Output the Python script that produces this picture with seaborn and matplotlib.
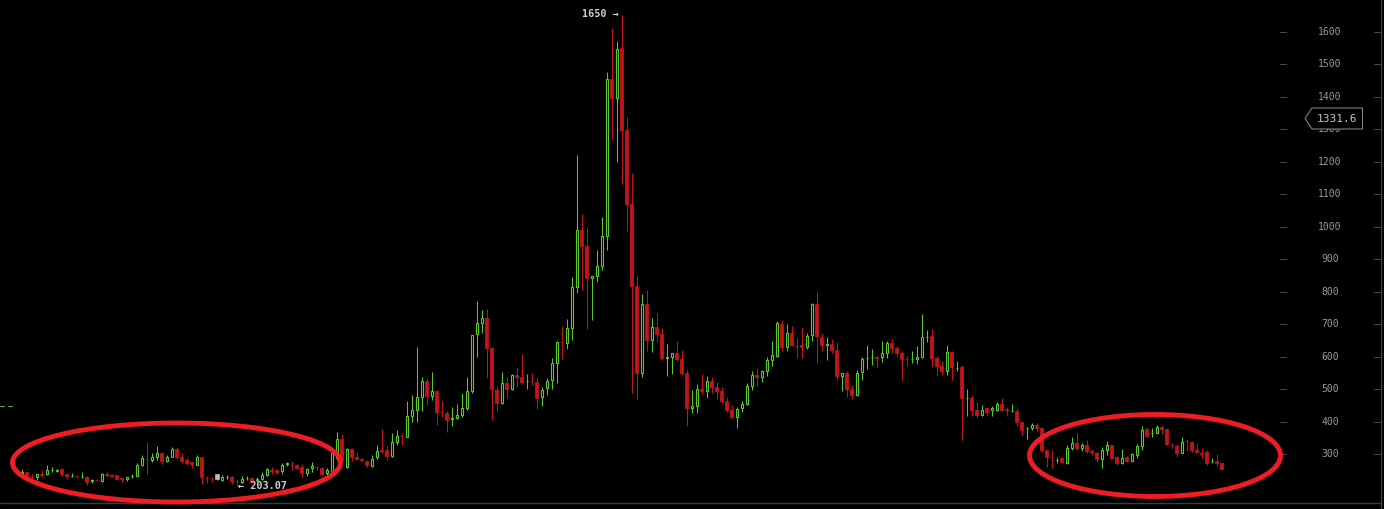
import matplotlib
matplotlib.use("Agg")
import numpy as np
import pandas as pd
import seaborn as sns
import matplotlib.pyplot as plt
from matplotlib.patches import Ellipse, Polygon

# ---------------- data ----------------
opens = [236, 245, 233, 229, 241, 238, 251, 248, 254, 239, 232, 233, 229, 231, 218, 221, 217, 238, 235, 235,
         227, 223, 232, 234, 267, 287, 282, 291, 303, 280, 293, 315, 291, 283, 275, 268, 291, 227, 227, 225,
         221, 229, 231, 218, 215, 227, 226, 222, 223, 236, 251, 253, 250, 271, 268, 267, 262, 243, 257, 262,
         257, 243, 247, 288, 346, 262, 316, 291, 285, 280, 265, 291, 312, 313, 295, 339, 357, 354, 418, 436,
         477, 525, 479, 496, 430, 428, 410, 411, 421, 441, 496, 669, 705, 718, 628, 498, 459, 518, 500, 544,
         537, 525, 527, 521, 475, 503, 529, 580, 645, 643, 690, 816, 990, 941, 841, 849, 880, 972, 1454, 1397,
         1549, 1298, 1070, 819, 551, 762, 652, 691, 670, 596, 600, 613, 592, 549, 443, 450, 501, 496, 525, 507,
         495, 464, 436, 416, 443, 455, 511, 544, 539, 557, 590, 603, 701, 631, 672, 634, 636, 631, 666, 762,
         660, 637, 638, 621, 542, 549, 501, 482, 552, 595, 598, 599, 600, 613, 641, 626, 611, 593, 592, 593,
         598, 661, 664, 595, 572, 557, 616, 566, 570, 472, 474, 436, 421, 441, 436, 436, 455, 438, 432, 433,
         398, 381, 380, 390, 380, 313, 292, 283, 290, 274, 320, 336, 318, 329, 309, 303, 285, 313, 329, 293,
         272, 293, 279, 298, 327, 377, 366, 367, 385, 378, 329, 326, 305, 342, 337, 313, 303, 308, 278, 279,
         274]
highs = [255, 245, 239, 240, 252, 267, 262, 255, 257, 240, 243, 237, 245, 233, 225, 223, 243, 245, 239, 236,
         227, 230, 241, 274, 298, 339, 303, 326, 308, 298, 321, 323, 303, 291, 277, 298, 293, 233, 231, 240,
         236, 235, 234, 223, 233, 233, 226, 229, 247, 257, 262, 254, 274, 277, 279, 270, 270, 259, 277, 264,
         262, 259, 313, 370, 362, 318, 320, 306, 288, 284, 297, 328, 377, 326, 365, 375, 365, 464, 482, 631,
         537, 534, 554, 498, 464, 433, 447, 455, 490, 539, 667, 772, 744, 746, 631, 510, 554, 537, 547, 568,
         609, 547, 551, 537, 506, 534, 595, 649, 695, 716, 844, 1221, 1039, 998, 848, 928, 1030, 1477, 1612, 1571,
         1651, 1339, 1166, 852, 793, 806, 718, 736, 688, 639, 612, 648, 621, 559, 498, 515, 546, 541, 539, 523,
         508, 477, 452, 446, 464, 518, 556, 566, 559, 598, 648, 710, 713, 700, 695, 657, 693, 674, 766, 802,
         672, 662, 654, 647, 551, 556, 513, 559, 598, 636, 624, 606, 649, 649, 654, 633, 618, 602, 618, 633,
         732, 682, 684, 602, 587, 636, 619, 587, 575, 501, 484, 462, 452, 446, 449, 462, 474, 446, 454, 441,
         400, 385, 395, 395, 385, 313, 313, 293, 293, 329, 354, 365, 336, 344, 315, 308, 323, 341, 329, 295,
         315, 295, 303, 331, 387, 385, 382, 390, 387, 380, 336, 332, 352, 346, 342, 336, 318, 313, 288, 301,
         274]
lows = [231, 226, 221, 221, 231, 236, 247, 245, 233, 224, 230, 228, 228, 205, 213, 218, 214, 229, 229, 221,
        215, 219, 228, 233, 265, 241, 276, 282, 269, 277, 291, 285, 274, 266, 259, 266, 208, 213, 216, 222,
        218, 225, 208, 203, 211, 221, 211, 215, 221, 233, 239, 239, 239, 264, 252, 254, 231, 233, 247, 252,
        236, 231, 241, 282, 277, 257, 280, 283, 278, 262, 262, 285, 305, 283, 293, 329, 329, 354, 400, 400,
        433, 452, 467, 390, 414, 370, 387, 409, 416, 436, 490, 600, 674, 536, 406, 431, 455, 472, 498, 508,
        516, 501, 513, 440, 449, 483, 501, 520, 593, 624, 652, 797, 806, 687, 714, 831, 868, 928, 1270, 1198,
        1132, 987, 488, 467, 537, 618, 616, 644, 590, 541, 547, 587, 544, 388, 426, 428, 485, 474, 488, 470,
        459, 431, 413, 382, 431, 452, 498, 510, 523, 542, 572, 600, 619, 619, 633, 597, 597, 625, 650, 582,
        619, 590, 611, 529, 496, 477, 470, 480, 529, 562, 575, 566, 585, 597, 613, 600, 529, 572, 582, 577,
        595, 647, 570, 542, 544, 544, 529, 556, 344, 418, 419, 411, 418, 418, 418, 433, 433, 419, 429, 387,
        359, 346, 375, 372, 308, 262, 257, 272, 274, 269, 313, 313, 310, 303, 298, 275, 259, 298, 286, 267,
        270, 275, 277, 290, 313, 352, 354, 362, 362, 329, 320, 291, 303, 310, 308, 306, 288, 267, 272, 265,
        255]
closes = [247, 234, 232, 239, 237, 252, 252, 252, 239, 233, 233, 232, 230, 216, 220, 220, 239, 237, 234, 225,
          225, 230, 233, 267, 288, 285, 292, 303, 280, 291, 315, 293, 280, 272, 270, 293, 229, 226, 226, 238,
          231, 230, 218, 217, 225, 228, 216, 223, 236, 254, 249, 245, 267, 272, 266, 258, 244, 255, 265, 261,
          241, 252, 305, 346, 282, 315, 293, 285, 283, 268, 287, 311, 311, 295, 337, 356, 355, 418, 436, 475,
          525, 480, 495, 431, 429, 406, 411, 421, 441, 495, 667, 703, 718, 628, 500, 459, 518, 500, 544, 539,
          524, 526, 526, 474, 498, 526, 580, 647, 644, 688, 814, 990, 942, 841, 848, 879, 972, 1454, 1397, 1547,
          1299, 1070, 819, 551, 762, 652, 691, 670, 595, 598, 612, 593, 549, 443, 449, 500, 496, 525, 508, 496,
          465, 436, 416, 439, 455, 510, 544, 539, 556, 590, 605, 705, 631, 672, 636, 633, 630, 664, 762, 664,
          636, 638, 621, 542, 549, 502, 482, 549, 593, 596, 599, 597, 611, 641, 628, 613, 593, 592, 593, 600,
          660, 662, 597, 573, 557, 614, 570, 567, 474, 473, 436, 421, 436, 431, 441, 455, 436, 436, 433, 400,
          375, 382, 390, 380, 313, 293, 291, 284, 277, 318, 336, 318, 329, 310, 307, 285, 313, 329, 290, 272,
          288, 279, 300, 327, 375, 356, 367, 385, 377, 331, 328, 305, 337, 340, 313, 308, 302, 272, 279, 274,
          255]
highlight_idx = 39            # hovered candle, drawn in grey
tick_values = [300, 400, 500, 600, 700, 800, 900, 1000, 1100, 1200, 1300, 1400, 1500, 1600]
tick_labels = [str(v) for v in tick_values]
last_price_label = "1331.6"
high_label = "1650 \u2192"
low_label = "\u2190 203.07"

# ---------------- style ----------------
GREEN = "#5cc92a"
RED = "#c3141b"
ELL = "#ee1c24"
sns.set_theme(style="dark", rc={"axes.facecolor": "black", "figure.facecolor": "black"})
plt.rcParams["font.family"] = ["DejaVu Sans Mono", "DejaVu Sans"]

df = pd.DataFrame({"i": np.arange(len(opens)), "open": opens, "high": highs,
                   "low": lows, "close": closes})
df["up"] = df["close"] >= df["open"]

W, H = 1384, 509
fig = plt.figure(figsize=(W / 100, H / 100), dpi=100)
ax = fig.add_axes([0, 0, 1, 1])
ax.set_facecolor("black")

# pixel-to-data helpers (layout only)
def px_x(px):
    return (px - 21.7) / 5.0

def px_y(py):
    return 1697.5 - 3.076 * py

ax.set_xlim(px_x(0), px_x(W))
ax.set_ylim(px_y(H), px_y(0))
ax.axis("off")

LW1 = 0.72  # 1 px

# wicks
wcol = np.where(df["up"], GREEN, RED).astype(object)
wcol[highlight_idx] = "#bbbbbb"
ax.vlines(df["i"], df["low"], df["high"], colors=list(wcol), linewidth=LW1, zorder=1)

# bodies
up = df[df["up"] & (df["i"] != highlight_idx)]
dn = df[~df["up"] & (df["i"] != highlight_idx)]
ax.bar(up["i"], (up["close"] - up["open"]).clip(lower=0.5), bottom=up["open"], width=0.45,
       facecolor="black", edgecolor=GREEN, linewidth=LW1 * 1.1, zorder=2)
ax.bar(dn["i"], (dn["open"] - dn["close"]).clip(lower=0.5), bottom=dn["close"], width=0.5,
       facecolor=RED, edgecolor=RED, linewidth=LW1 * 0.8, zorder=2)
hl = df.iloc[[highlight_idx]]
ax.bar(hl["i"], (hl["close"] - hl["open"]).abs(), bottom=hl[["open", "close"]].min(axis=1),
       width=0.85, facecolor="#bdbdbd", edgecolor="#bdbdbd", linewidth=0.5, zorder=3)

# right axis: tick dashes and labels
for v, lab in zip(tick_values, tick_labels):
    ax.plot([px_x(1280), px_x(1286)], [v, v], color="#4a4a4a", lw=LW1, zorder=1)
    ax.plot([px_x(1374), px_x(1380)], [v, v], color="#4a4a4a", lw=LW1, zorder=1)
    ax.text(px_x(1330), v, lab, color="#9a9a9a", fontsize=7, ha="center", va="center", zorder=4)

# frame lines
ax.plot([px_x(0), px_x(1381)], [px_y(503), px_y(503)], color="#3c3c3c", lw=LW1 * 1.4, zorder=1)
ax.plot([px_x(1381), px_x(1381)], [px_y(0), px_y(509)], color="#3c3c3c", lw=LW1 * 1.4, zorder=1)

# last price tag
poly = Polygon([(px_x(1305), px_y(118.5)), (px_x(1312), px_y(108)), (px_x(1362.5), px_y(108)),
                (px_x(1362.5), px_y(129)), (px_x(1312), px_y(129))], closed=True,
               facecolor="black", edgecolor="#8a8a8a", lw=LW1, zorder=5)
ax.add_patch(poly)
ax.text(px_x(1337), px_y(118.5), last_price_label, color="#c0c0c0", fontsize=8,
        ha="center", va="center", zorder=6)

# high / low annotations
ax.text(px_x(582), px_y(14), high_label, color="#d0d0d0", fontsize=7.3, ha="left",
        va="center", fontweight="bold", zorder=6)
ax.text(px_x(238), px_y(485.5), low_label, color="#d0d0d0", fontsize=7.3, ha="left",
        va="center", fontweight="bold", zorder=6)

# green dashed marker at left edge
ax.plot([px_x(0), px_x(13)], [px_y(406.3), px_y(406.3)], color=GREEN, lw=LW1,
        linestyle=(0, (4, 4)), zorder=2)

# red hand-drawn ellipses
e1 = Ellipse((px_x(176.5), px_y(462.5)), width=328 / 5.0, height=79 * 3.076,
             fill=False, edgecolor=ELL, lw=3.5, zorder=7)
e2 = Ellipse((px_x(1155), px_y(455.5)), width=251 / 5.0, height=82 * 3.076,
             fill=False, edgecolor=ELL, lw=3.5, zorder=7)
ax.add_patch(e1)
ax.add_patch(e2)

fig.savefig("out.png", dpi=100, facecolor="black")
